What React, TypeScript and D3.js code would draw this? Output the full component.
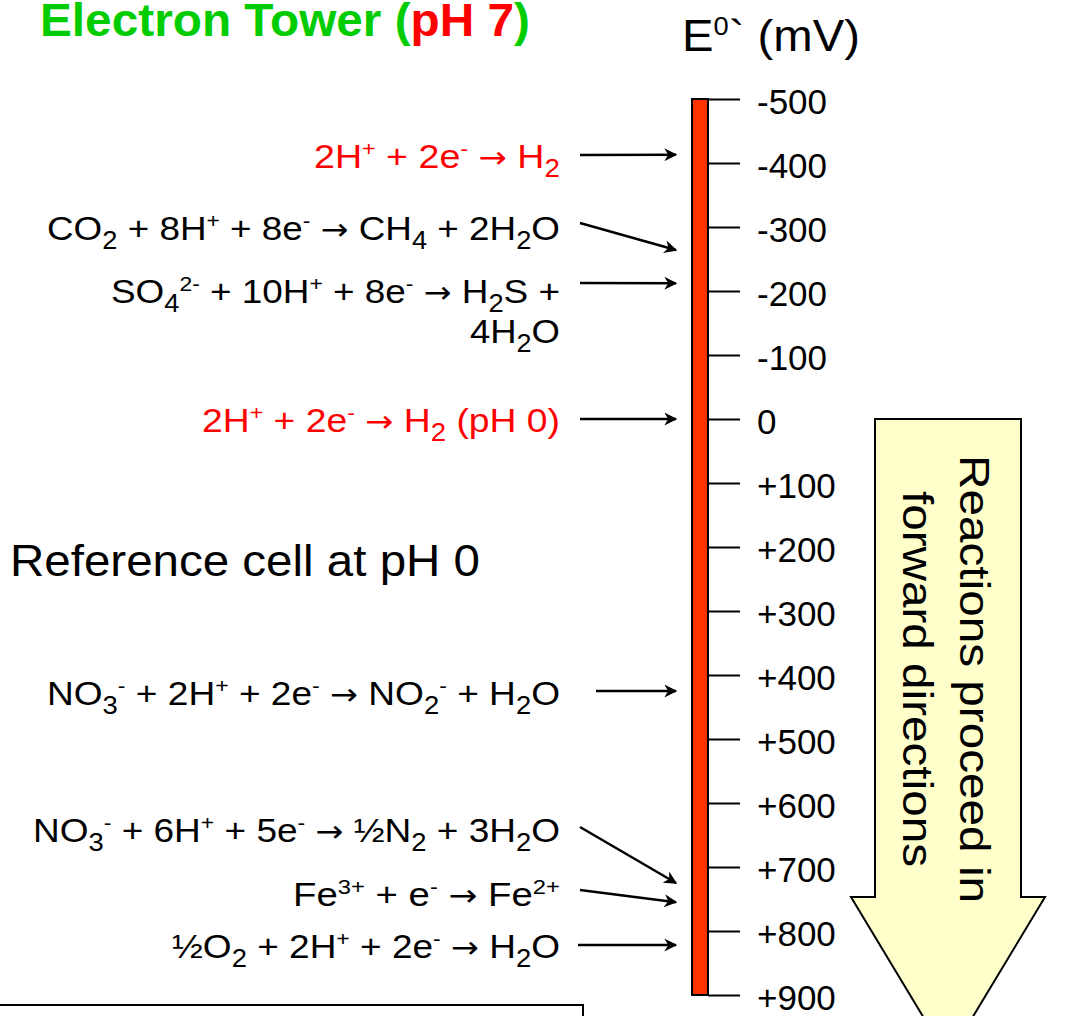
import { useEffect, useRef } from 'react'
import * as d3 from 'd3'

// E0' axis (mV)
const tickValues = [-500, -400, -300, -200, -100, 0, 100, 200, 300, 400, 500, 600, 700, 800, 900]
const tickLabels = ['-500', '-400', '-300', '-200', '-100', '0', '+100', '+200', '+300', '+400', '+500', '+600', '+700', '+800', '+900']

// half reactions: _x = subscript, ^x = superscript, | = line break
const reactions = [
  '2H^+ + 2e^- → H_2',
  'CO_2 + 8H^+ + 8e^- → CH_4 + 2H_2O',
  'SO_4^{2-} + 10H^+ + 8e^- → H_2S +|4H_2O',
  '2H^+ + 2e^- → H_2 (pH 0)',
  'NO_3^- + 2H^+ + 2e^- → NO_2^- + H_2O',
  'NO_3^- + 6H^+ + 5e^- → ½N_2 + 3H_2O',
  'Fe^{3+} + e^- → Fe^{2+}',
  '½O_2 + 2H^+ + 2e^- → H_2O',
]
const potentials = [-413, -264, -212, 0, 425, 725, 755, 822]
const hydrogenRefs = [0, 3]

const FONT = '"Liberation Sans", Arial, Helvetica, sans-serif'

type Seg = { t: string; k: 'n' | 'sub' | 'sup' | 'arrow' }

function parse(s: string): Seg[] {
  const segs: Seg[] = []
  let buf = ''
  let i = 0
  const flush = () => {
    if (buf) segs.push({ t: buf, k: 'n' })
    buf = ''
  }
  while (i < s.length) {
    const c = s[i]
    if (c === '_' || c === '^') {
      flush()
      let t: string
      if (s[i + 1] === '{') {
        const j = s.indexOf('}', i)
        t = s.slice(i + 2, j)
        i = j + 1
      } else {
        t = s[i + 1]
        i += 2
      }
      segs.push({ t, k: c === '_' ? 'sub' : 'sup' })
    } else if (c === '→') {
      flush()
      segs.push({ t: c, k: 'arrow' })
      i++
    } else {
      buf += c
      i++
    }
  }
  flush()
  return segs
}

function rich(text: d3.Selection<SVGTextElement, unknown, null, undefined>, s: string, fs: number) {
  let cur = 0
  parse(s).forEach((seg) => {
    const shift = seg.k === 'sub' ? 0.26 * fs : seg.k === 'sup' ? -0.34 * fs : 0
    const size = seg.k === 'sub' ? 0.74 * fs : seg.k === 'sup' ? 0.62 * fs : seg.k === 'arrow' ? 0.9 * fs : fs
    const ts = text.append('tspan').attr('dy', shift - cur).attr('font-size', size).text(seg.t)
    if (seg.k === 'arrow') ts.attr('font-family', '"DejaVu Sans", sans-serif')
    cur = shift
  })
}

export default function App() {
  const svgRef = useRef<SVGSVGElement>(null)

  useEffect(() => {
    if (!svgRef.current) return
    const svg = d3.select(svgRef.current)
    svg.selectAll('*').remove()

    const y = d3.scaleLinear().domain([-500, 900]).range([99, 995])

    const defs = svg.append('defs')
    defs
      .append('marker')
      .attr('id', 'ah')
      .attr('viewBox', '0 0 10 10')
      .attr('refX', 9)
      .attr('refY', 5)
      .attr('markerUnits', 'userSpaceOnUse')
      .attr('markerWidth', 17)
      .attr('markerHeight', 13)
      .attr('orient', 'auto')
      .append('path')
      .attr('d', 'M0,0 L10,5 L0,10 L3,5 Z')
      .attr('fill', '#000')

    // title
    const title = svg
      .append('text')
      .attr('x', 40)
      .attr('y', 36)
      .attr('font-size', 46)
      .attr('font-weight', 'bold')
      .attr('fill', '#00cc00')
      .attr('textLength', 490)
      .attr('lengthAdjust', 'spacingAndGlyphs')
    title.append('tspan').text('Electron Tower (')
    title.append('tspan').attr('fill', '#ff0000').text('pH 7')
    title.append('tspan').text(')')

    // axis title
    const et = svg
      .append('text')
      .attr('x', 682)
      .attr('y', 51)
      .attr('font-size', 45)
      .attr('fill', '#000')
      .attr('textLength', 178)
      .attr('lengthAdjust', 'spacingAndGlyphs')
    et.append('tspan').text('E')
    et.append('tspan').attr('font-size', 26).attr('dy', -16).text('0')
    et.append('tspan').attr('dy', 16).text('`  (mV)')

    // tower bar
    svg
      .append('rect')
      .attr('x', 692)
      .attr('y', y(-500))
      .attr('width', 16)
      .attr('height', y(900) - y(-500))
      .attr('fill', '#ff3300')
      .attr('stroke', '#000')
      .attr('stroke-width', 2)

    const axis = svg
      .append('g')
      .attr('transform', 'translate(708,0)')
      .call(
        d3
          .axisRight(y)
          .tickValues(tickValues)
          .tickSize(32)
          .tickPadding(17)
          .tickFormat((_d, i) => tickLabels[i])
      )
    axis.select('.domain').remove()
    axis.selectAll('.tick line').attr('stroke', '#000').attr('stroke-width', 2)
    axis
      .selectAll('.tick text')
      .attr('fill', '#000')
      .attr('font-size', 35)
      .attr('font-family', FONT)
      .attr('dy', '0.4em')

    // reaction labels and arrows
    const labelBaseline = [168, 240, 303, 432, 705, 842, 906, 958]
    const labelWidth = [246, 513, 449, 358, 513, 527, 267, 388]
    const arrowStartY = [155, 223, 283, 419, 691, 827, 890, 945]
    const arrowStartX = [580, 580, 580, 580, 596, 580, 580, 578]
    const secondLineWidth = 90

    reactions.forEach((r, i) => {
      const color = hydrogenRefs.includes(i) ? '#ff0000' : '#000'
      const lines = r.split('|')
      lines.forEach((line, li) => {
        const t = svg
          .append('text')
          .attr('x', 560)
          .attr('y', labelBaseline[i] + li * 40)
          .attr('text-anchor', 'end')
          .attr('fill', color)
          .attr('textLength', li === 0 ? labelWidth[i] : secondLineWidth)
          .attr('lengthAdjust', 'spacingAndGlyphs')
          .style('white-space', 'pre')
        rich(t, line, 34)
      })
      svg
        .append('line')
        .attr('x1', arrowStartX[i])
        .attr('y1', arrowStartY[i])
        .attr('x2', 676)
        .attr('y2', y(potentials[i]))
        .attr('stroke', '#000')
        .attr('stroke-width', 2.5)
        .attr('marker-end', 'url(#ah)')
    })

    // reference cell note
    svg
      .append('text')
      .attr('x', 10)
      .attr('y', 576)
      .attr('font-size', 44)
      .attr('fill', '#000')
      .attr('textLength', 470)
      .attr('lengthAdjust', 'spacingAndGlyphs')
      .text('Reference cell at pH 0')

    // direction arrow
    const top = y(0)
    const shoulder = 897
    const bigArrow = d3.path()
    bigArrow.moveTo(875, top)
    bigArrow.lineTo(1021, top)
    bigArrow.lineTo(1021, shoulder)
    bigArrow.lineTo(1045, shoulder)
    bigArrow.lineTo(948, 1058)
    bigArrow.lineTo(851, shoulder)
    bigArrow.lineTo(875, shoulder)
    bigArrow.closePath()
    svg
      .append('path')
      .attr('d', bigArrow.toString())
      .attr('fill', '#ffffcc')
      .attr('stroke', '#000')
      .attr('stroke-width', 2)

    const rot = svg.append('g').attr('transform', 'translate(948,679) rotate(90)')
    rot
      .append('text')
      .attr('x', 0)
      .attr('y', -12)
      .attr('text-anchor', 'middle')
      .attr('font-size', 42)
      .attr('fill', '#000')
      .attr('textLength', 448)
      .attr('lengthAdjust', 'spacingAndGlyphs')
      .text('Reactions proceed in')
    rot
      .append('text')
      .attr('x', 0)
      .attr('y', 45)
      .attr('text-anchor', 'middle')
      .attr('font-size', 42)
      .attr('fill', '#000')
      .attr('textLength', 376)
      .attr('lengthAdjust', 'spacingAndGlyphs')
      .text('forward directions')

    // note box at bottom
    svg
      .append('rect')
      .attr('x', -2)
      .attr('y', 1005)
      .attr('width', 585)
      .attr('height', 100)
      .attr('fill', 'none')
      .attr('stroke', '#000')
      .attr('stroke-width', 2)
  }, [])

  return (
    <svg
      ref={svgRef}
      width={1067}
      height={1016}
      viewBox="0 0 1067 1016"
      style={{ position: 'absolute', left: 0, top: 0, background: '#fff', fontFamily: FONT }}
    />
  )
}
